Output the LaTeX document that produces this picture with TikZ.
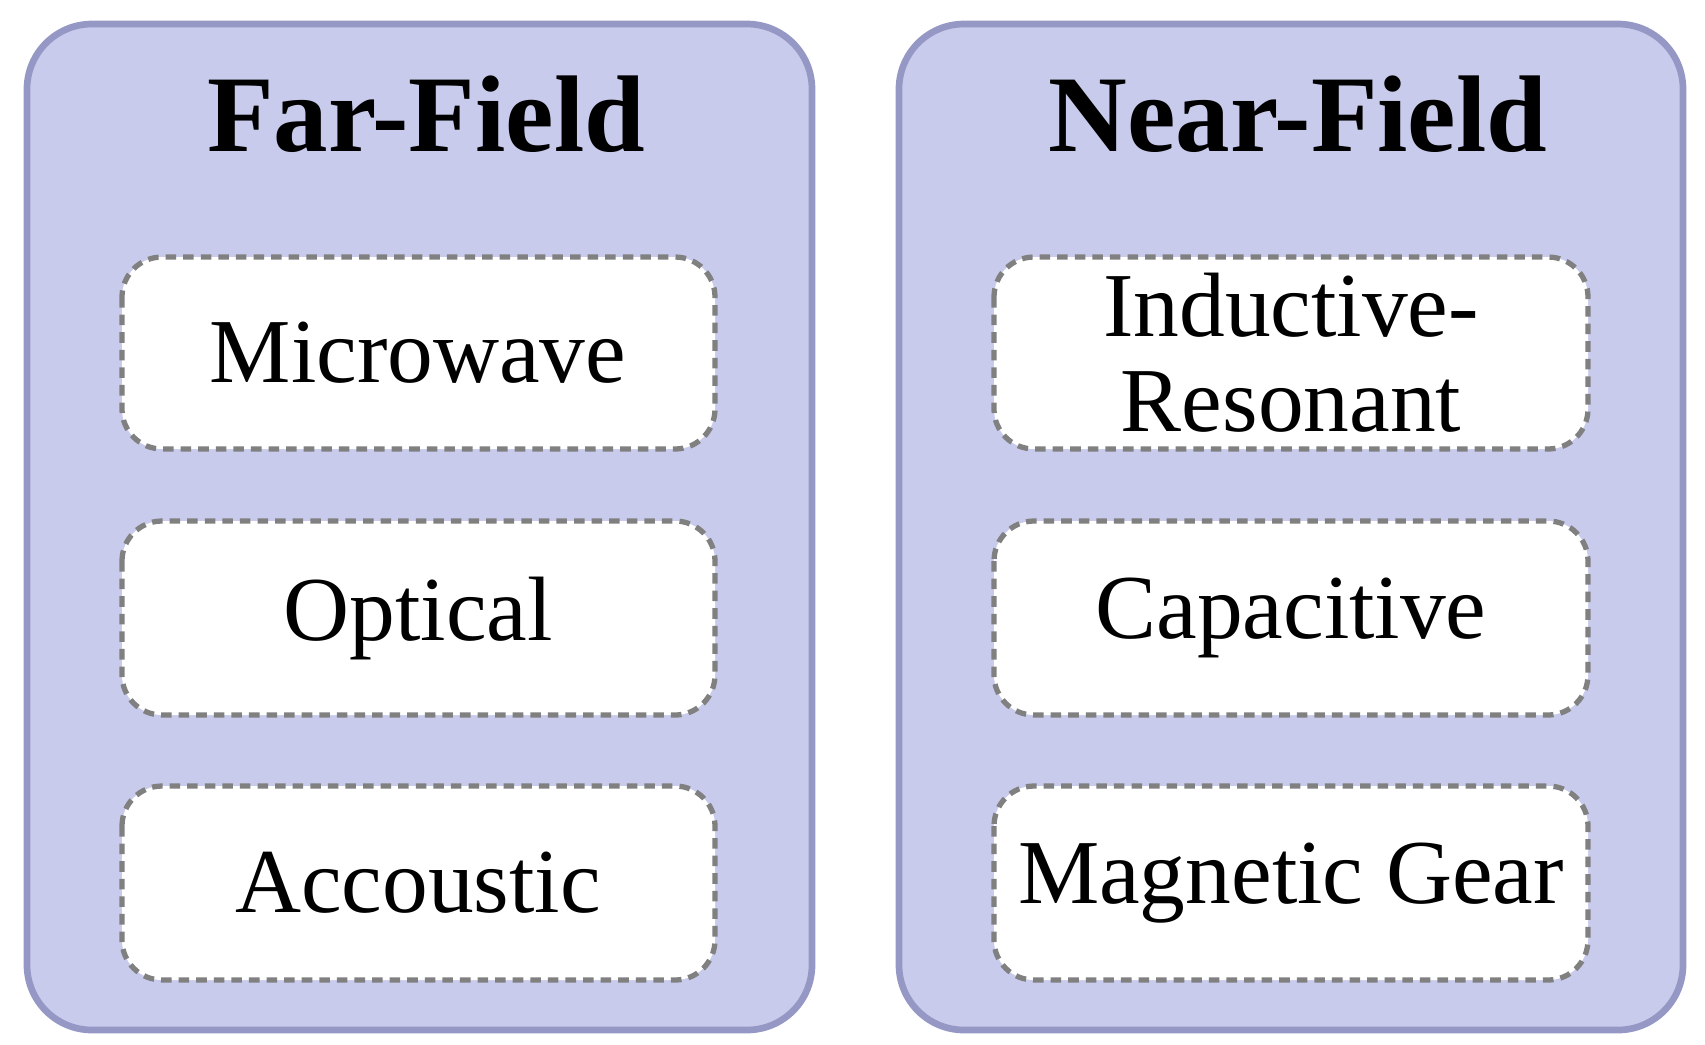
\documentclass[tikz,border=0pt]{standalone}
\usepackage{fontspec}
\setmainfont{Liberation Serif}
\begin{document}
\begin{tikzpicture}[x=0.01cm,y=-0.01cm,
 panel/.style={draw=black!0!blue!30!gray!90, draw={rgb,255:red,149;green,152;blue,196}, fill={rgb,255:red,200;green,203;blue,235}, line width=1.9pt, rounded corners=0.65cm},
 item/.style={draw={rgb,255:red,128;green,128;blue,128}, fill=white, line width=1.5pt, dash pattern=on 3pt off 2pt, rounded corners=0.4cm},
 lab/.style={font=\fontsize{26}{27}\selectfont, align=center},
 ttl/.style={font=\fontsize{31}{32}\selectfont\bfseries}]
\useasboundingbox (0,0) rectangle (1705,1044);
\draw[panel] (27,24) rectangle (812,1030);
\draw[panel] (899,24) rectangle (1683,1030);
\node[ttl] (far) at (426,114) {Far-Field};
\node[ttl] (near) at (1298,114) {Near-Field};
\draw[item] (122,257) rectangle (715,449); \node[lab] (mw) at (418,353) {Microwave};
\draw[item] (122,521) rectangle (715,715); \node[lab] (op) at (418,618) {Optical};
\draw[item] (122,786) rectangle (715,980); \node[lab] (ac) at (418,883) {Accoustic};
\draw[item] (994,257) rectangle (1588,449); \node[lab] (ir) at (1291,353) {Inductive-\\Resonant};
\draw[item] (994,521) rectangle (1588,715); \node[lab] (cp) at (1291,618) {Capacitive};
\draw[item] (994,786) rectangle (1588,980); \node[lab] (mg) at (1291,883) {Magnetic Gear};
\end{tikzpicture}
\end{document}
